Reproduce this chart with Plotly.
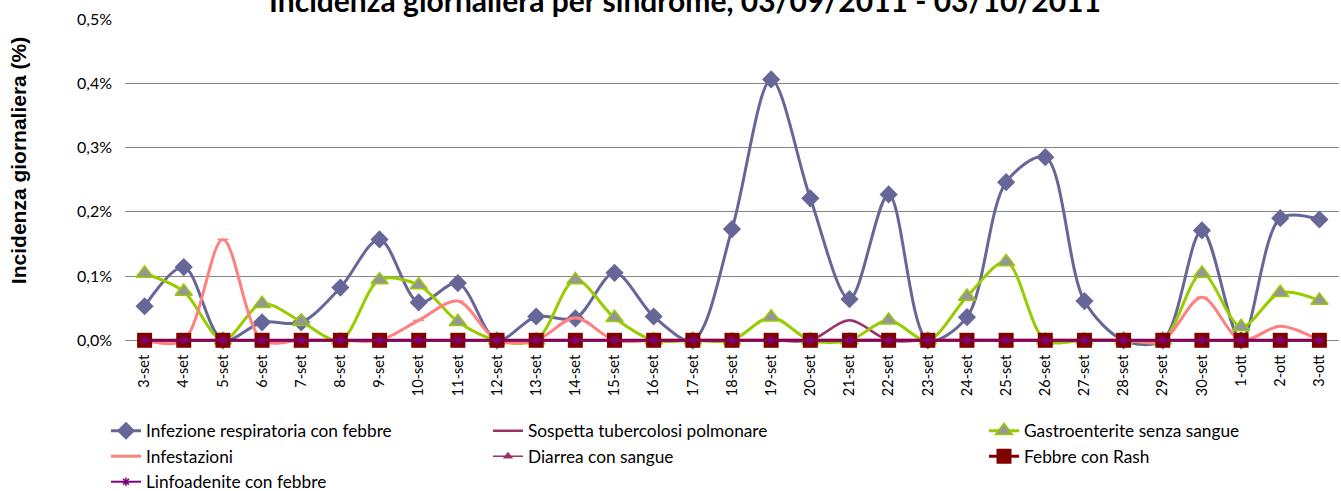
import plotly.graph_objects as go

categories = ["3-set", "4-set", "5-set", "6-set", "7-set", "8-set", "9-set", "10-set",
              "11-set", "12-set", "13-set", "14-set", "15-set", "16-set", "17-set",
              "18-set", "19-set", "20-set", "21-set", "22-set", "23-set", "24-set",
              "25-set", "26-set", "27-set", "28-set", "29-set", "30-set", "1-ott",
              "2-ott", "3-ott"]

infezione_resp = [0.053, 0.114, 0.0, 0.028, 0.028, 0.082, 0.157, 0.059, 0.089, 0.0,
                  0.037, 0.034, 0.105, 0.037, 0.0, 0.173, 0.406, 0.221, 0.064, 0.227,
                  0.0, 0.036, 0.246, 0.285, 0.061, 0.0, 0.0, 0.171, 0.0, 0.190, 0.188]
sospetta_tbc = [0.0] * 18 + [0.031] + [0.0] * 12
gastroenterite = [0.104, 0.076, 0.0, 0.057, 0.029, 0.0, 0.094, 0.086, 0.029, 0.0,
                  0.0, 0.094, 0.035, 0.0, 0.0, 0.0, 0.036, 0.0, 0.0, 0.031,
                  0.0, 0.068, 0.122, 0.0, 0.0, 0.0, 0.0, 0.104, 0.021, 0.074, 0.062]
infestazioni = [0.0, 0.0, 0.157, 0.0, 0.0, 0.0, 0.0, 0.031, 0.061, 0.0,
                0.0, 0.035, 0.0, 0.0, 0.0, 0.0, 0.0, 0.0, 0.0, 0.0,
                0.0, 0.0, 0.0, 0.0, 0.0, 0.0, 0.0, 0.067, 0.0, 0.022, 0.0]
diarrea_sangue = [0.0] * 31
febbre_rash = [0.0] * 31
linfoadenite = [0.0] * 31

y_ticks = [0.0, 0.1, 0.2, 0.3, 0.4, 0.5]
y_tick_labels = ["0,0%", "0,1%", "0,2%", "0,3%", "0,4%", "0,5%"]

FONT = "Lato"
W, H = 1341, 491

fig = go.Figure()

def add(name, y, color, width, symbol=None, msize=0, mcolor=None, mline=None, legend="legend"):
    marker = dict(symbol=symbol or "circle", size=msize, color=mcolor or color)
    if mline:
        marker["line"] = dict(color=mline, width=1.5)
    fig.add_trace(go.Scatter(
        x=categories, y=y, name=name, mode="lines+markers" if symbol else "lines",
        line=dict(color=color, width=width, shape="spline", smoothing=0.9),
        marker=marker, cliponaxis=False, legend=legend,
    ))

add("Infezione respiratoria con febbre", infezione_resp, "#666699", 3, "diamond", 14, legend="legend")
add("Sospetta tubercolosi polmonare", sospetta_tbc, "#993366", 2.5, legend="legend2")
add("Gastroenterite senza sangue", gastroenterite, "#99CC00", 3, "triangle-up", 15, "#969696", "#99CC00", legend="legend3")
add("Infestazioni", infestazioni, "#FF8080", 3, "line-ew", 8, mline="#FF8080", legend="legend")
add("Diarrea con sangue", diarrea_sangue, "#993366", 1.5, "triangle-up", 9, legend="legend2")
add("Febbre con Rash", febbre_rash, "#800000", 3, "square", 15, legend="legend3")
add("Linfoadenite con febbre", linfoadenite, "#800080", 2, "asterisk", 7, mline="#800080", legend="legend")

top, zero_y = 19, 340
px_per_unit = (zero_y - top) / 0.5
ymin = -0.012
bottom_px = zero_y + (-ymin) * px_per_unit
left, right = 125, 2
plot_w = W - left - right
plot_h = bottom_px - top

leg_common = dict(xref="container", yref="container", xanchor="left", yanchor="top",
                  orientation="v", bgcolor="rgba(0,0,0,0)",
                  font=dict(family=FONT, size=17.3, color="#000000"),
                  tracegroupgap=0, itemwidth=30, maxheight=1.0)

fig.update_layout(
    width=W, height=H,
    margin=dict(l=left, r=right, t=top, b=H - bottom_px, autoexpand=False),
    paper_bgcolor="white", plot_bgcolor="white",
    title=dict(text="<b>Incidenza giornaliera per sindrome, 03/09/2011 - 03/10/2011</b>",
               font=dict(family=FONT, size=30, color="#000000"),
               x=685 / W, xanchor="center", xref="container", y=1 - 1 / H, yanchor="middle", yref="container"),
    xaxis=dict(type="category", range=[-0.5, 30.5], showgrid=False, showline=False,
               tickangle=-90, ticks="", tickfont=dict(family=FONT, size=14.5, color="#000000"),
               zeroline=False, automargin=False, ticklabelstandoff=3),
    yaxis=dict(range=[ymin, 0.5], tickvals=y_ticks, ticktext=y_tick_labels,
               showgrid=True, gridcolor="#868686", gridwidth=1.3, zeroline=False,
               showline=False, ticks="", tickfont=dict(family=FONT, size=16, color="#000000"),
               automargin=False, ticklabelstandoff=12),
    annotations=[dict(text="<b>Incidenza giornaliera (%)</b>", textangle=-90,
                      xref="paper", yref="paper",
                      x=(18 - left) / plot_w, y=(bottom_px - 161) / plot_h,
                      xanchor="center", yanchor="middle", showarrow=False,
                      font=dict(family="Liberation Sans", size=21, color="#000000"))],
    legend=dict(x=106 / W, y=1 - 413 / H, **leg_common),
    legend2=dict(x=488 / W, y=1 - 413 / H, **leg_common),
    legend3=dict(x=984 / W, y=1 - 413 / H, **leg_common),
    showlegend=True,
)

fig.write_html("out.html", config={"displayModeBar": False},
               post_script="document.body.style.margin='0';document.body.style.overflow='hidden';")
